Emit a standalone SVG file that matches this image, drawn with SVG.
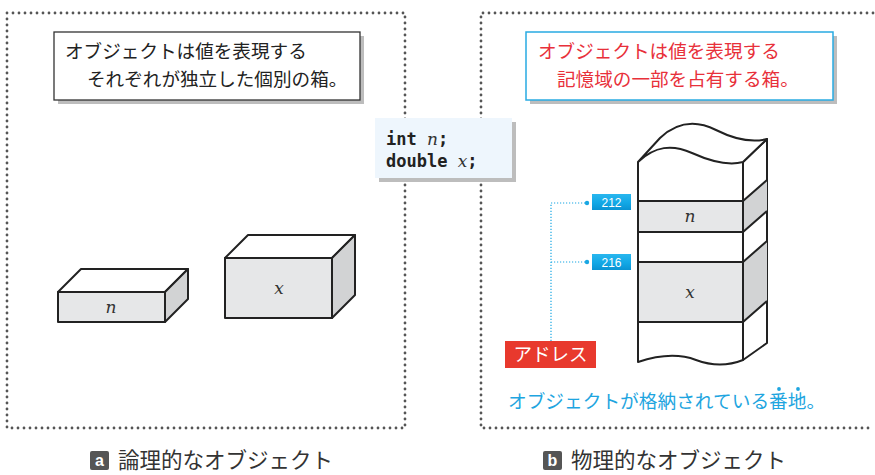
<svg xmlns="http://www.w3.org/2000/svg" width="875" height="475" viewBox="0 0 875 475">
  <defs>
    <style>
      .frame { fill: none; stroke: #555; stroke-width: 2.8; stroke-linecap: round; stroke-dasharray: 0 6; }
      .jp { font-family: "Noto Sans CJK JP", "Noto Sans", sans-serif; }
      .note { font-size: 18.6px; }
      .shadow { fill: #bdbdbd; }
      .edge { stroke: #222; stroke-width: 2; stroke-linejoin: round; }
      .front { fill: #e6e7e8; }
      .side { fill: #d2d3d4; }
      .top { fill: #ffffff; }
      .var { font-family: "DejaVu Serif", "Liberation Serif", serif; font-style: italic; font-size: 17px; fill: #333; }
      .code { font-family: "DejaVu Sans Mono", "Liberation Mono", monospace; font-size: 17px; font-weight: bold; fill: #222; }
      .addr { fill: url(#addrFill); }
      .addrText { font-family: "Liberation Sans", sans-serif; font-size: 12px; fill: #fff; }
      .lead { fill: none; stroke: #1aa7e3; stroke-width: 1.2; stroke-dasharray: 1.2 1.8; }
      .caption { font-size: 21.5px; fill: #333; }
    </style>
    <linearGradient id="addrFill" x1="0" y1="0" x2="0" y2="1">
      <stop offset="0" stop-color="#29b6ee"/>
      <stop offset="0.55" stop-color="#12a8e6"/>
      <stop offset="1" stop-color="#0a93d3"/>
    </linearGradient>
  </defs>

  <rect width="875" height="475" fill="#ffffff"/>

  <!-- panel frames -->
  <g id="frames">
    <path class="frame" d="M7,13 H405 V428 H7 Z"/>
    <path class="frame" d="M873,13 H481 V428 H873"/>
  </g>

  <!-- panel a: note -->
  <g id="note-a">
    <rect class="shadow" x="58" y="36" width="306" height="68"/>
    <rect x="54" y="32" width="306" height="68" fill="#fff" stroke="#333" stroke-width="1.3"/>
    <text class="jp note" x="65" y="58" fill="#222">オブジェクトは値を表現する</text>
    <text class="jp note" x="87" y="86" fill="#222">それぞれが独立した個別の箱。</text>
  </g>

  <!-- panel a: box n -->
  <g id="box-n">
    <polygon class="top edge" points="58,292 81,269 188,269 165,292"/>
    <polygon class="side edge" points="165,292 188,269 188,299 165,322"/>
    <rect class="front edge" x="58" y="292" width="107" height="30"/>
    <text class="var" x="111" y="313" text-anchor="middle">n</text>
  </g>

  <!-- panel a: box x -->
  <g id="box-x">
    <polygon class="top edge" points="225,258 248,235 355,235 332,258"/>
    <polygon class="side edge" points="332,258 355,235 355,295 332,318"/>
    <rect class="front edge" x="225" y="258" width="107" height="60"/>
    <text class="var" x="279" y="294" text-anchor="middle">x</text>
  </g>

  <!-- declarations -->
  <g id="code">
    <rect class="shadow" x="379" y="122" width="137" height="60"/>
    <rect x="375" y="118" width="137" height="60" fill="#eef6fd"/>
    <text class="code" x="386" y="145">int <tspan class="var" font-weight="normal">n</tspan>;</text>
    <text class="code" x="386" y="167">double <tspan class="var" font-weight="normal">x</tspan>;</text>
  </g>

  <!-- panel b: note -->
  <g id="note-b">
    <rect class="shadow" x="530" y="36" width="307" height="68"/>
    <rect x="526" y="32" width="307" height="68" fill="#fff" stroke="#29abe2" stroke-width="1.5"/>
    <text class="jp note" x="538" y="58" fill="#e8303a">オブジェクトは値を表現する</text>
    <text class="jp note" x="557" y="86" fill="#e8303a">記憶域の一部を占有する箱。</text>
  </g>

  <!-- panel b: memory column -->
  <g id="memory">
    <!-- right side -->
    <path class="top edge" d="M743,162 L767,139 L767,343 L743,360 Z"/>
    <polygon class="side" points="743,201 767,180 767,211 743,232"/>
    <polygon class="side" points="743,262 767,241 767,301 743,322"/>
    <path fill="none" class="edge" d="M743,201 L767,180 M743,232 L767,211 M743,262 L767,241 M743,322 L767,301"/>
    <!-- front face -->
    <path class="top" d="M638,162 L743,162 L743,360 C728,366 712,366 696,360 C680,354 662,354 638,362 Z"/>
    <rect class="front" x="638" y="201" width="105" height="31"/>
    <rect class="front" x="638" y="262" width="105" height="60"/>
    <path fill="none" class="edge" d="M638,201 H743 M638,232 H743 M638,262 H743 M638,322 H743"/>
    <path fill="none" class="edge" d="M638,162 V362 C662,354 680,354 696,360 C712,366 728,366 743,360 V162"/>
    <!-- top face with wavy edges -->
    <path class="top edge" d="M638,162 C655,146 672,144 692,153 C712,162 728,166 743,162 L767,139 C752,143 736,140 716,130 C696,120 677,122 660,138 Z"/>
    <text class="var" x="690" y="222" text-anchor="middle">n</text>
    <text class="var" x="690" y="298" text-anchor="middle">x</text>
  </g>

  <!-- address labels -->
  <g id="addr-212">
    <rect class="addr" x="592" y="194" width="39" height="16"/>
    <text class="addrText" x="611.5" y="206.5" text-anchor="middle">212</text>
  </g>
  <g id="addr-216">
    <rect class="addr" x="592" y="254" width="39" height="16"/>
    <text class="addrText" x="611.5" y="266.5" text-anchor="middle">216</text>
  </g>

  <g id="connectors">
    <path class="lead" d="M551,341 V203 H587 M551,262 H587"/>
    <circle cx="587" cy="203" r="2.2" fill="#1aa7e3"/>
    <circle cx="587" cy="262" r="2.2" fill="#1aa7e3"/>
  </g>

  <g id="address-tag">
    <rect x="505" y="341" width="91" height="27" fill="#e8392d"/>
    <text class="jp" x="550.5" y="361" text-anchor="middle" font-size="18.5" fill="#fff">アドレス</text>
  </g>

  <g id="address-note">
    <text class="jp" x="508" y="408" font-size="18.7" fill="#1ea5e0">オブジェクトが格納されている番地。</text>
    <circle cx="779" cy="389" r="1.9" fill="#1ea5e0"/>
    <circle cx="798" cy="389" r="1.9" fill="#1ea5e0"/>
  </g>

  <!-- captions -->
  <g id="caption-a">
    <rect x="90" y="451" width="19" height="19" rx="2" fill="#555"/>
    <text x="99.5" y="466" text-anchor="middle" font-family="Liberation Sans, sans-serif" font-weight="bold" font-size="16" fill="#fff">a</text>
    <text class="jp caption" x="118" y="468">論理的なオブジェクト</text>
  </g>
  <g id="caption-b">
    <rect x="543" y="451" width="19" height="19" rx="2" fill="#555"/>
    <text x="552.5" y="466" text-anchor="middle" font-family="Liberation Sans, sans-serif" font-weight="bold" font-size="16" fill="#fff">b</text>
    <text class="jp caption" x="571" y="468">物理的なオブジェクト</text>
  </g>
</svg>
